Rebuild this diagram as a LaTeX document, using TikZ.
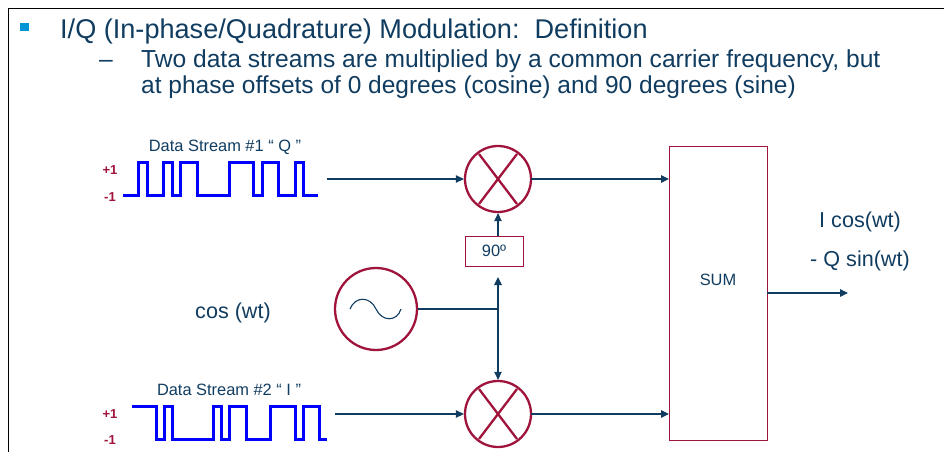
\documentclass[tikz,border=0pt]{standalone}
\usepackage{fontspec}
\setmainfont{Liberation Sans}
\definecolor{navy}{RGB}{16,60,96}
\definecolor{wine}{RGB}{160,20,60}
\definecolor{wave}{RGB}{0,0,255}
\definecolor{bullet}{RGB}{0,150,214}
\usetikzlibrary{arrows.meta}
\tikzset{
    link/.style={draw=navy,line width=1.1pt,-{Triangle[length=8pt,width=7.5pt]}},
    plainlink/.style={draw=navy,line width=1.1pt},
    mixer/.style={circle,draw=wine,line width=2.3pt,minimum size=66pt,inner sep=0pt},
    block/.style={rectangle,draw=wine,line width=0.8pt,inner sep=0pt,text=navy},
    signal/.style={draw=wave,line width=3pt},
    levelmark/.style={text=wine,font=\bfseries\fontsize{13}{13}\selectfont},
    caption/.style={text=navy,font=\fontsize{16.4}{16.4}\selectfont},
    label/.style={text=navy,font=\fontsize{21.6}{21.6}\selectfont},
    heading/.style={anchor=base west,inner sep=0pt,text=navy,font=\fontsize{24.6}{24.6}\selectfont}
}
\begin{document}
\begin{tikzpicture}[x=1pt,y=-1pt]
    \useasboundingbox (0,0) rectangle (944,452);
    \draw[black,line width=1pt] (8.5,452) -- (8.5,8.5) -- (944,8.5);
    % heading
    \node[fill=bullet,minimum size=8.5pt,inner sep=0pt] (mark) at (24.5,27) {};
    \node[heading,font=\fontsize{27.1}{27.1}\selectfont] (title) at (60,38) {I/Q (In-phase/Quadrature) Modulation:\ \ Definition};
    \node[heading] (dash) at (99,67) {–};
    \node[heading] (line1) at (141,67) {Two data streams are multiplied by a common carrier frequency, but};
    \node[heading,font=\fontsize{24.5}{24.5}\selectfont] (line2) at (141,93) {at phase offsets of 0 degrees (cosine) and 90 degrees (sine)};
    % waveforms
    \node[caption] (nameq) at (225,147) {Data Stream \#1 “ Q ”};
    \node[levelmark] (qhigh) at (110,170) {+1};
    \node[levelmark] (qlow) at (110,197) {-1};
    \draw[signal] (123,195) -| (138,162) -| (147,195) -| (163,162) -| (172,195) -| (180,162) -| (197,195) -| (229,162) -| (253,195) -| (262,162) -| (278,195) -| (295,162) -| (303,195) -- (318,195);
    \node[caption] (namei) at (229,390) {Data Stream \#2 “ I ”};
    \node[levelmark] (ihigh) at (110,414) {+1};
    \node[levelmark] (ilow) at (110,440) {-1};
    \draw[signal] (132,406) -| (156,439) -| (164,406) -| (172,439) -| (213,406) -| (221,439) -| (229,406) -| (246,439) -| (270,406) -| (295,439) -| (303,406) -| (319,439) -- (327,439);
    % blocks
    \node[mixer] (mixq) at (498,179) {};
    \node[mixer] (mixi) at (498,414) {};
    \foreach \m in {mixq,mixi} {
        \draw[wine,line width=2.3pt] (\m) ++(-19,-25) -- ++(38,50);
        \draw[wine,line width=2.3pt] (\m) ++(19,-25) -- ++(-38,50);
    }
    \node[block,minimum width=58pt,minimum height=30pt,font=\fontsize{16.4}{16.4}\selectfont] (shift) at (494,251) {90º};
    \node[circle,draw=wine,line width=2.3pt,minimum size=82pt,inner sep=0pt] (osc) at (376,309) {};
    \draw[navy,line width=1.1pt] (350,309) .. controls (355,296) and (370,296) .. (376,309) .. controls (382,322) and (397,322) .. (401,309);
    \node[block,minimum width=98pt,minimum height=294pt] (sum) at (718,293) {};
    \node[text=navy,font=\fontsize{16.4}{16.4}\selectfont] (sumtext) at (718,280) {SUM};
    \node[label] (oscname) at (233,313) {cos (wt)};
    \node[label] (outa) at (860,222) {I cos(wt)};
    \node[label] (outb) at (860,261) {- Q sin(wt)};
    % connectors
    \coordinate (qin) at (327,179);
    \coordinate (iin) at (335,414);
    \coordinate (split) at (498,309);
    \coordinate (gap) at (498,277);
    \coordinate (shifttop) at (498,236);
    \coordinate (sumq) at (669,179);
    \coordinate (sumi) at (669,414);
    \coordinate (sumout) at (767,293);
    \coordinate (out) at (848,293);
    \draw[link] (qin) -- (mixq);
    \draw[link] (iin) -- (mixi);
    \draw[link] (mixq) ++(33,0) -- (sumq);
    \draw[link] (mixi) ++(33,0) -- (sumi);
    \draw[plainlink] (osc) -- (split);
    \draw[link] (split) -- (gap);
    \draw[link] (split) -- (mixi);
    \draw[link] (shifttop) -- (mixq);
    \draw[link] (sumout) -- (out);
\end{tikzpicture}
\end{document}
